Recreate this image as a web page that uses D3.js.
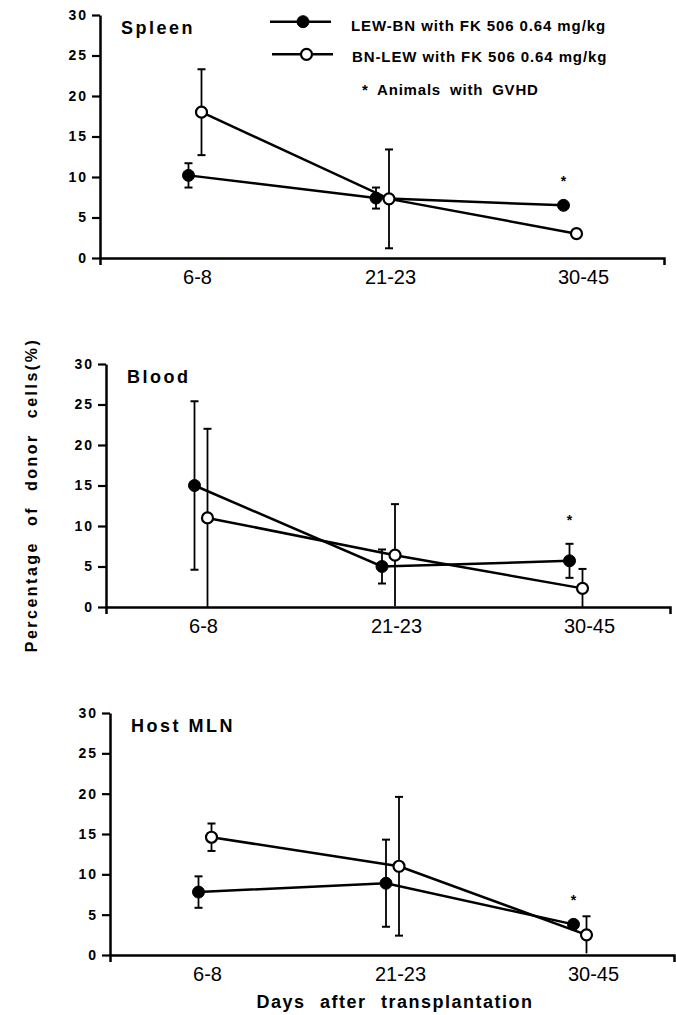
<!DOCTYPE html>
<html>
<head>
<meta charset="utf-8">
<script src="https://cdn.jsdelivr.net/npm/d3@7"></script>
<style>
body { margin: 0; background: #fff; }
svg { display: block; font-family: Arial, "Liberation Sans", Helvetica, sans-serif; }
</style>
</head>
<body>
<svg id="chart" width="676" height="1015"></svg>
<script>
var categories = ["6-8", "21-23", "30-45"];
var yTicks = [0, 5, 10, 15, 20, 25, 30];
var panelNames = ["Spleen", "Blood", "Host MLN"];
var seriesNames = ["LEW-BN with FK 506 0.64 mg/kg", "BN-LEW with FK 506 0.64 mg/kg"];
var gvhdNote = "Animals with GVHD";
var gvhdCategory = "30-45";

// LEW-BN (filled circles), mean and error
var lewbnSpleen = [10.2, 7.4, 6.5];
var lewbnSpleenErr = [1.5, 1.3, 0];
var lewbnBlood = [15.0, 5.0, 5.7];
var lewbnBloodErr = [10.4, 2.1, 2.1];
var lewbnMLN = [7.8, 8.9, 3.8];
var lewbnMLNErr = [1.95, 5.4, 0];

// BN-LEW (open circles)
var bnlewSpleen = [18.0, 7.3, 3.0];
var bnlewSpleenErr = [5.3, 6.1, 0.5];
var bnlewBlood = [11.0, 6.4, 2.3];
var bnlewBloodErr = [11.0, 6.3, 2.4];
var bnlewMLN = [14.6, 11.0, 2.5];
var bnlewMLNErr = [1.7, 8.6, 2.3];

var FONT = "Arial, Liberation Sans, Helvetica, sans-serif";
var svg = d3.select("#chart");

// scanned panels are slightly shifted, so each gets its own frame
var layout = [
    {left: 100, top: 15, bottom: 258},
    {left: 106, top: 364, bottom: 607},
    {left: 110, top: 713, bottom: 955}
];
var axisLen = 564;
var off = 6.5; // horizontal offset of the two series around a category

var panels = [
    {name: panelNames[0], a: lewbnSpleen, aErr: lewbnSpleenErr, b: bnlewSpleen, bErr: bnlewSpleenErr},
    {name: panelNames[1], a: lewbnBlood, aErr: lewbnBloodErr, b: bnlewBlood, bErr: bnlewBloodErr},
    {name: panelNames[2], a: lewbnMLN, aErr: lewbnMLNErr, b: bnlewMLN, bErr: bnlewMLNErr}
];

panels.forEach(function (p, i) {
    var L = layout[i];
    var g = svg.append("g").attr("transform", "translate(" + L.left + ",0)");
    var y = d3.scaleLinear().domain([0, 30]).range([L.bottom, L.top]);
    var x = d3.scalePoint().domain(categories).range([95, 470]);
    var xLab = d3.scalePoint().domain(categories).range([97, 483]);
    var xLine = d3.scaleLinear().domain([0, 1]).range([0, axisLen]);

    // x axis line, with the little end ticks
    g.append("g")
        .attr("transform", "translate(0," + L.bottom + ")")
        .call(d3.axisBottom(xLine).tickValues([]).tickSizeOuter(7))
        .call(function (s) {
            s.select(".domain").attr("stroke", "#000").attr("stroke-width", 2.5);
        });

    // category labels
    g.append("g")
        .attr("transform", "translate(0," + L.bottom + ")")
        .call(d3.axisBottom(xLab).tickSize(0).tickPadding(12))
        .attr("font-family", FONT)
        .attr("font-size", 20)
        .call(function (s) {
            s.select(".domain").remove();
            s.selectAll("text").attr("fill", "#000");
        });

    // y axis
    g.append("g")
        .call(d3.axisLeft(y).tickValues(yTicks).tickSize(8).tickSizeOuter(0).tickPadding(4))
        .attr("font-family", FONT)
        .attr("font-size", 14)
        .attr("font-weight", "bold")
        .call(function (s) {
            s.select(".domain").attr("stroke", "#000").attr("stroke-width", 2.5);
            s.selectAll(".tick line").attr("stroke", "#000").attr("stroke-width", 2.2);
            s.selectAll("text").attr("fill", "#000").style("letter-spacing", "2px");
        });

    // panel title
    g.append("text")
        .attr("x", 21)
        .attr("y", L.top + 19)
        .attr("font-size", 18)
        .attr("font-weight", "bold")
        .style("letter-spacing", "2.5px")
        .text(p.name);

    var series = [
        {vals: p.a, err: p.aErr, dx: -off, filled: true},
        {vals: p.b, err: p.bErr, dx: off, filled: false}
    ];

    series.forEach(function (s) {
        // error bars
        s.vals.forEach(function (m, j) {
            var e = s.err[j];
            if (!e) return;
            var cx = x(categories[j]) + s.dx;
            var lo = Math.max(0, m - e), hi = m + e;
            g.append("line")
                .attr("x1", cx).attr("x2", cx)
                .attr("y1", y(lo)).attr("y2", y(hi))
                .attr("stroke", "#000").attr("stroke-width", 1.8);
            g.append("line")
                .attr("x1", cx - 4).attr("x2", cx + 4)
                .attr("y1", y(hi)).attr("y2", y(hi))
                .attr("stroke", "#000").attr("stroke-width", 2);
            if (lo > 0.5) {
                g.append("line")
                    .attr("x1", cx - 4).attr("x2", cx + 4)
                    .attr("y1", y(lo)).attr("y2", y(lo))
                    .attr("stroke", "#000").attr("stroke-width", 2);
            }
        });
    });

    series.forEach(function (s) {
        var line = d3.line()
            .x(function (d, j) { return x(categories[j]) + s.dx; })
            .y(function (d) { return y(d); });
        g.append("path")
            .datum(s.vals)
            .attr("d", line)
            .attr("fill", "none")
            .attr("stroke", "#000")
            .attr("stroke-width", 2.5);
    });

    series.forEach(function (s) {
        g.selectAll(null)
            .data(s.vals)
            .enter().append("circle")
            .attr("cx", function (d, j) { return x(categories[j]) + s.dx; })
            .attr("cy", function (d) { return y(d); })
            .attr("r", s.filled ? 6 : 5.5)
            .attr("fill", s.filled ? "#000" : "#fff")
            .attr("stroke", "#000")
            .attr("stroke-width", s.filled ? 1 : 2.2);
    });

    // GVHD asterisk above the LEW-BN point
    var k = categories.indexOf(gvhdCategory);
    g.append("text")
        .attr("x", x(gvhdCategory) - off)
        .attr("y", y(p.a[k] + p.aErr[k]) - 19)
        .attr("text-anchor", "middle")
        .attr("font-size", 14)
        .attr("font-weight", "bold")
        .text("*");
});

// legend
var legend = svg.append("g");
var legendRows = [
    {y: 21.7, x1: 270, x2: 331, cx: 303, tx: 351, ty: 30.5, filled: true},
    {y: 54.3, x1: 272, x2: 333, cx: 306.5, tx: 352, ty: 61.7, filled: false}
];
legendRows.forEach(function (r, i) {
    legend.append("line")
        .attr("x1", r.x1).attr("x2", r.x2)
        .attr("y1", r.y).attr("y2", r.y)
        .attr("stroke", "#000").attr("stroke-width", 2.5);
    legend.append("circle")
        .attr("cx", r.cx).attr("cy", r.y)
        .attr("r", r.filled ? 6 : 5.5)
        .attr("fill", r.filled ? "#000" : "#fff")
        .attr("stroke", "#000")
        .attr("stroke-width", r.filled ? 1 : 2.2);
    legend.append("text")
        .attr("x", r.tx).attr("y", r.ty)
        .attr("font-size", 15)
        .attr("font-weight", "bold")
        .style("letter-spacing", "0.9px")
        .text(seriesNames[i]);
});
legend.append("text")
    .attr("x", 362).attr("y", 95)
    .attr("font-size", 15)
    .attr("font-weight", "bold")
    .style("letter-spacing", "0.8px")
    .style("word-spacing", "4px")
    .text("* " + gvhdNote);

// axis titles
svg.append("text")
    .attr("transform", "translate(37,495) rotate(-90)")
    .attr("text-anchor", "middle")
    .attr("font-size", 16)
    .attr("font-weight", "bold")
    .style("letter-spacing", "2.5px")
    .style("word-spacing", "8px")
    .text("Percentage of donor cells(%)");

svg.append("text")
    .attr("x", 395).attr("y", 1008)
    .attr("text-anchor", "middle")
    .attr("font-size", 18)
    .attr("font-weight", "bold")
    .style("letter-spacing", "1.5px")
    .style("word-spacing", "8px")
    .text("Days after transplantation");
</script>
</body>
</html>
